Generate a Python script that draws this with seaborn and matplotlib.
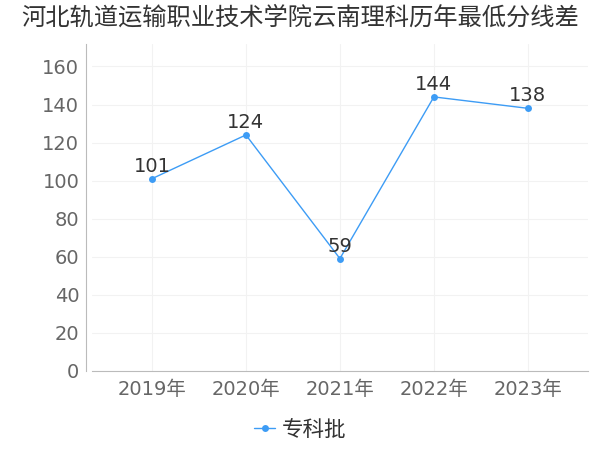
import pandas as pd
import seaborn as sns
import matplotlib.pyplot as plt

years = ["2019年", "2020年", "2021年", "2022年", "2023年"]
scores = [101, 124, 59, 144, 138]
series_name = "专科批"
title = "河北轨道运输职业技术学院云南理科历年最低分线差"

df = pd.DataFrame({"year": years, "score": scores, "batch": series_name})

sns.set_style("white")
plt.rcParams['font.family'] = ['DejaVu Sans', 'Noto Sans CJK SC']

fig = plt.figure(figsize=(6, 4.5), dpi=100)
ax = fig.add_axes([0.153, 0.176, 0.827, 0.727])

color = "#3d9cf5"
sns.lineplot(data=df, x="year", y="score", hue="batch", palette=[color],
             marker="o", markersize=5, markeredgewidth=0, linewidth=1,
             sort=False, ax=ax)

for i, v in enumerate(scores):
    ax.text(i, v + 1.5, str(v), ha="center", va="bottom", fontsize=14, color="#333333")

ax.set_xlim(-0.64, 4.64)
ax.set_ylim(0, 172)
ax.set_yticks(range(0, 161, 20))
ax.set_xlabel("")
ax.set_ylabel("")
ax.grid(True, color="#f2f2f2", linewidth=0.8)
ax.set_axisbelow(True)
for s in ["top", "right"]:
    ax.spines[s].set_visible(False)
ax.spines["left"].set_color("#bbbbbb")
ax.spines["bottom"].set_color("#bbbbbb")
ax.spines["left"].set_position(("outward", 4))
ax.tick_params(axis="both", colors="#666666", labelsize=14, length=3)
ax.tick_params(axis="y", length=0, pad=5)

ax.legend(loc="center", bbox_to_anchor=(0.5, 0.045), bbox_transform=fig.transFigure,
          frameon=False, handlelength=1.0, handletextpad=0.3,
          labelcolor="#333333", prop={"family": "Noto Sans CJK SC", "size": 15.5})

fig.suptitle(title, x=0.5, y=0.99, fontsize=17.5, color="#333333",
             family="Noto Sans CJK SC")

fig.savefig("out.png", dpi=100)
